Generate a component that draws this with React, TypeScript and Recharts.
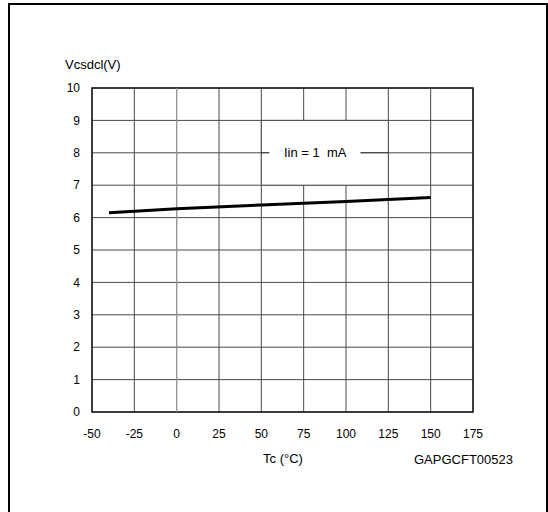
import React from 'react';
import { LineChart, Line, XAxis, YAxis, CartesianGrid, ReferenceArea, ReferenceLine, ReferenceDot } from 'recharts';

const temperatures = [-40, 0, 50, 100, 150];
const vcsdcl = [6.15, 6.27, 6.39, 6.5, 6.62];
const xTicks = [-50, -25, 0, 25, 50, 75, 100, 125, 150, 175];
const yTicks = [0, 1, 2, 3, 4, 5, 6, 7, 8, 9, 10];
const yTitle = 'Vcsdcl(V)';
const xTitle = 'Tc (°C)';
const codeLabel = 'GAPGCFT00523';
const conditionLabel = 'Iin = 1\u00a0 mA';

const data = temperatures.map((t, i) => ({ t, v: vcsdcl[i] }));

const FONT = '"Liberation Sans", Arial, Helvetica, sans-serif';

export default function App() {
  return (
    <div style={{ position: 'absolute', left: 0, top: 0, width: 548, height: 512, background: '#fff', overflow: 'hidden', fontFamily: FONT }}>
      <div style={{ position: 'absolute', left: 8, top: 3, width: 536, height: 540, borderLeft: '2px solid #000', borderTop: '2px solid #000', borderRight: '2px solid #000' }} />
      <div style={{ position: 'absolute', left: 0, top: 0 }}>
        <LineChart width={548} height={512} data={data} margin={{ top: 88, right: 75, bottom: 70, left: 62 }}>
          <CartesianGrid stroke="#4a4a4a" strokeWidth={1} />
          <XAxis
            dataKey="t"
            type="number"
            domain={[-50, 175]}
            ticks={xTicks}
            interval={0}
            axisLine={false}
            tickLine={false}
            tickSize={0}
            tickMargin={17}
            height={30}
            tick={{ fill: '#000', fontSize: 12, fontFamily: FONT }}
          />
          <YAxis
            type="number"
            domain={[0, 10]}
            ticks={yTicks}
            interval={0}
            axisLine={false}
            tickLine={false}
            tickSize={0}
            tickMargin={12}
            width={30}
            tick={{ fill: '#000', fontSize: 12, fontFamily: FONT }}
          />
          <ReferenceLine x={0} stroke="#a0a0a0" strokeWidth={1} />
          <ReferenceArea x1={50} x2={125} y1={7} y2={9} fill="#fff" fillOpacity={1} stroke="#4a4a4a" strokeWidth={1} />
          <ReferenceLine segment={[{ x: 50, y: 8 }, { x: 54.7, y: 8 }]} stroke="#000" strokeWidth={1} />
          <ReferenceLine segment={[{ x: 108.5, y: 8 }, { x: 125, y: 8 }]} stroke="#000" strokeWidth={1} />
          <ReferenceDot
            x={81.8}
            y={8}
            r={0}
            fill="none"
            stroke="none"
            label={{ value: conditionLabel, position: 'center', fill: '#000', fontSize: 13, fontFamily: FONT }}
          />
          <ReferenceArea x1={-50} x2={175} y1={0} y2={10} fill="none" stroke="#1a1a1a" strokeWidth={1.5} />
          <Line dataKey="v" type="linear" stroke="#000" strokeWidth={3} dot={false} isAnimationActive={false} />
        </LineChart>
      </div>
      <div style={{ position: 'absolute', left: 65, top: 58, fontSize: 13, lineHeight: '13px', whiteSpace: 'nowrap', color: '#000' }}>{yTitle}</div>
      <div style={{ position: 'absolute', left: 233, top: 452, width: 100, textAlign: 'center', fontSize: 13, lineHeight: '13px', whiteSpace: 'nowrap', color: '#000' }}>{xTitle}</div>
      <div style={{ position: 'absolute', left: 414, top: 453, fontSize: 13, lineHeight: '13px', whiteSpace: 'nowrap', color: '#000' }}>{codeLabel}</div>
    </div>
  );
}
